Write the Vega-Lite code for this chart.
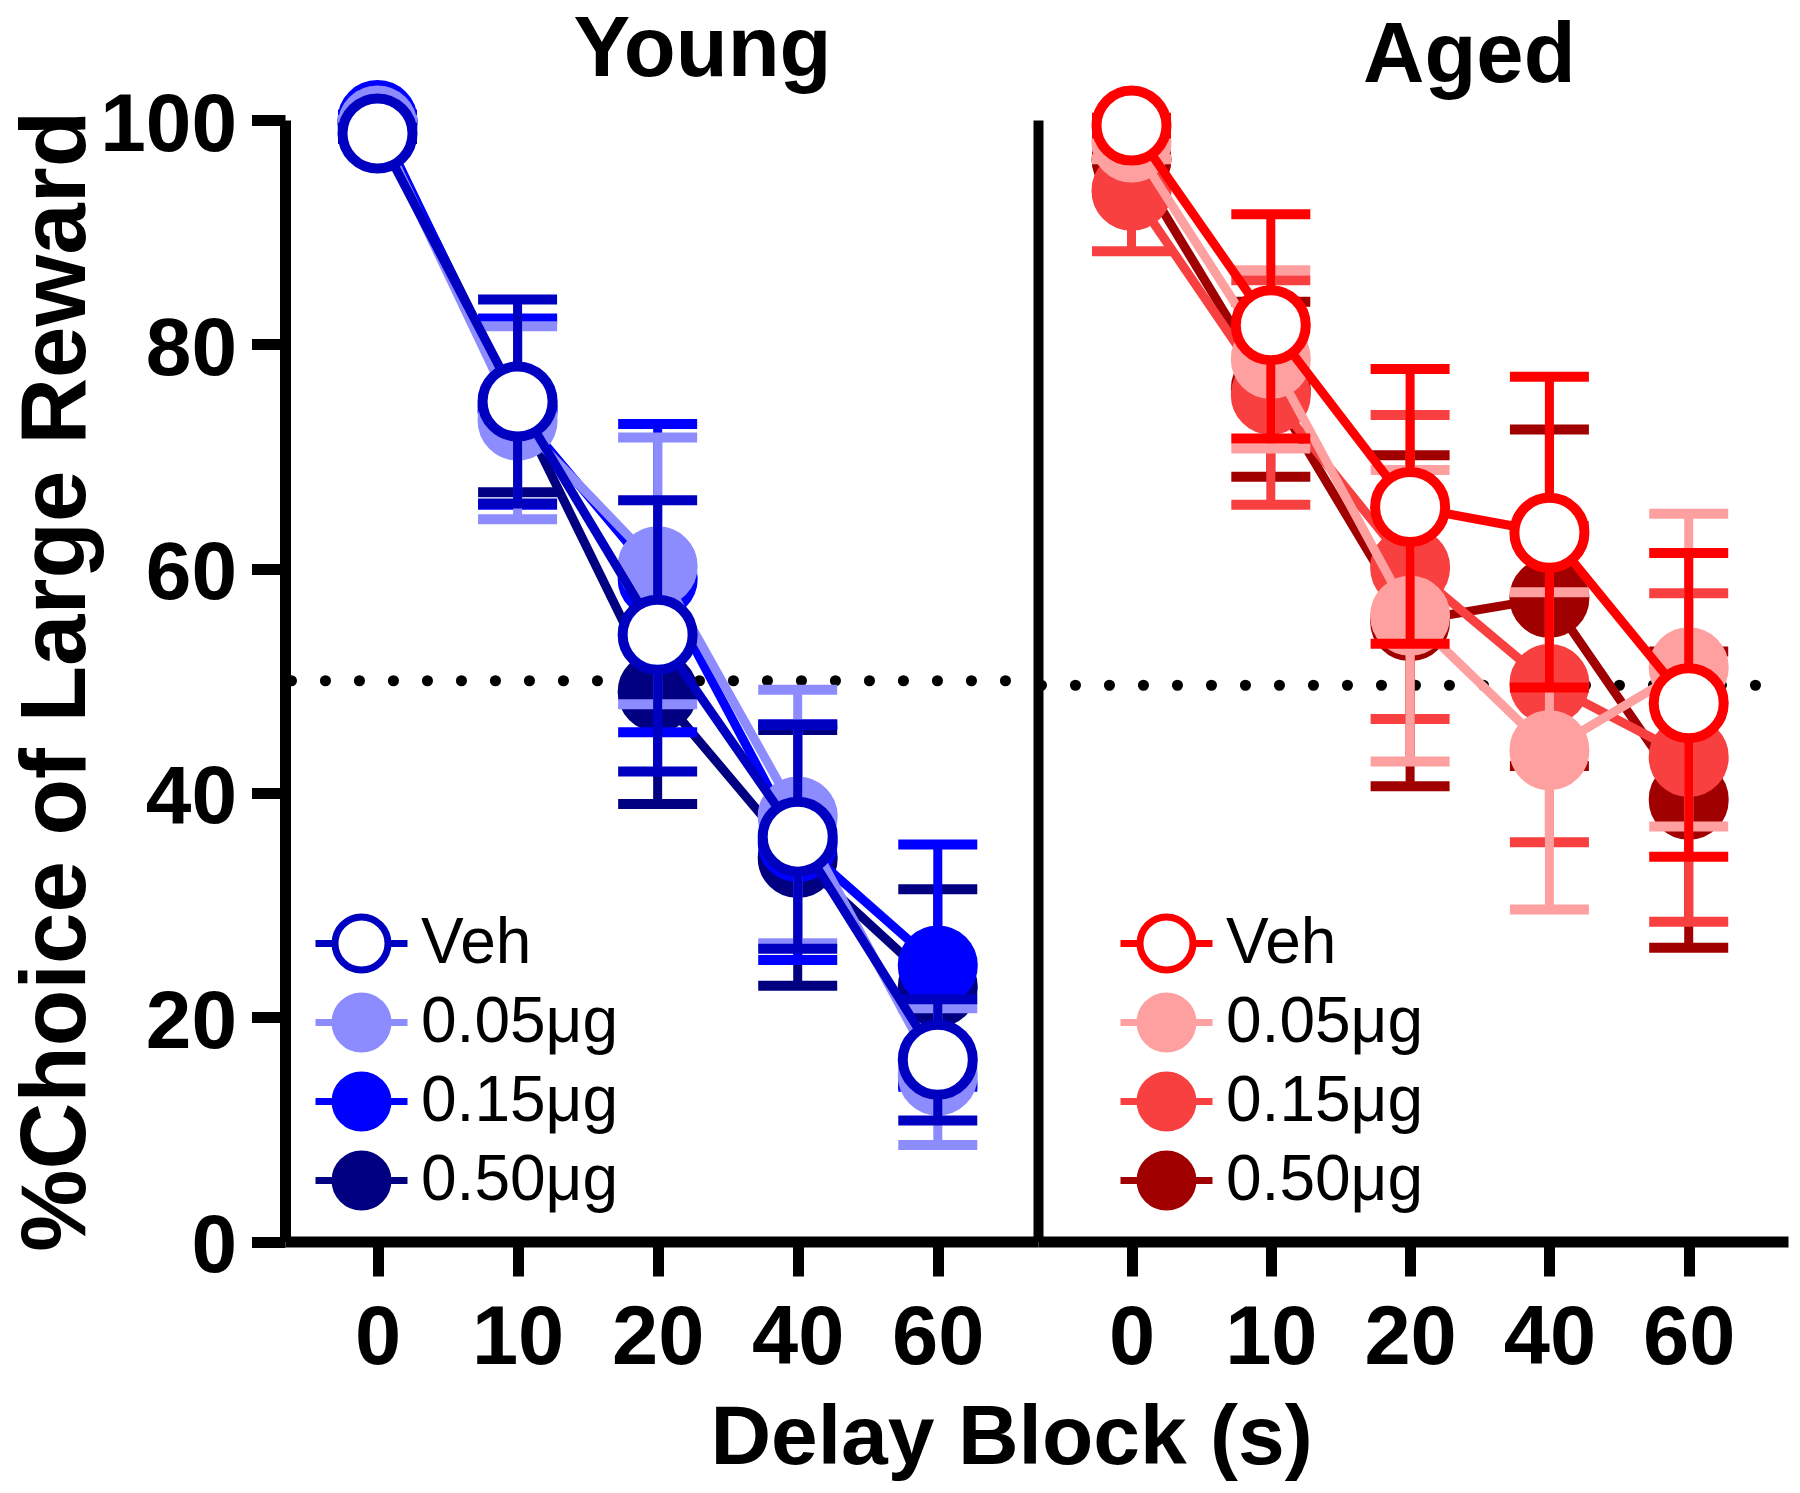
{
  "$schema": "https://vega.github.io/schema/vega-lite/v6.json",
  "background": "white",
  "padding": {"left": 10, "top": 7, "right": 0, "bottom": 0},
  "bounds": "flush",
  "spacing": 0,
  "data": {"values": [
    {"age":"Young","delay":0,"dose":"Veh","mean":98.8,"lo":98.3,"hi":99.3},
    {"age":"Young","delay":0,"dose":"0.05μg","mean":99.5,"lo":99.0,"hi":100.0},
    {"age":"Young","delay":0,"dose":"0.15μg","mean":100.0,"lo":99.5,"hi":100.5},
    {"age":"Young","delay":0,"dose":"0.50μg","mean":99.7,"lo":99.2,"hi":100.2},
    {"age":"Young","delay":10,"dose":"Veh","mean":74.9,"lo":65.8,"hi":84.0},
    {"age":"Young","delay":10,"dose":"0.05μg","mean":73.2,"lo":64.4,"hi":81.6},
    {"age":"Young","delay":10,"dose":"0.15μg","mean":74.0,"lo":65.7,"hi":82.3},
    {"age":"Young","delay":10,"dose":"0.50μg","mean":74.5,"lo":66.8,"hi":82.2},
    {"age":"Young","delay":20,"dose":"Veh","mean":54.1,"lo":41.9,"hi":66.1},
    {"age":"Young","delay":20,"dose":"0.05μg","mean":60.2,"lo":47.9,"hi":71.7},
    {"age":"Young","delay":20,"dose":"0.15μg","mean":59.1,"lo":45.4,"hi":72.9},
    {"age":"Young","delay":20,"dose":"0.50μg","mean":49.0,"lo":39.0,"hi":59.0},
    {"age":"Young","delay":40,"dose":"Veh","mean":36.1,"lo":26.1,"hi":46.1},
    {"age":"Young","delay":40,"dose":"0.05μg","mean":37.9,"lo":26.6,"hi":49.2},
    {"age":"Young","delay":40,"dose":"0.15μg","mean":35.6,"lo":25.1,"hi":46.1},
    {"age":"Young","delay":40,"dose":"0.50μg","mean":34.2,"lo":22.8,"hi":45.6},
    {"age":"Young","delay":60,"dose":"Veh","mean":16.2,"lo":10.8,"hi":21.6},
    {"age":"Young","delay":60,"dose":"0.05μg","mean":14.8,"lo":8.6,"hi":20.8},
    {"age":"Young","delay":60,"dose":"0.15μg","mean":24.6,"lo":13.8,"hi":35.4},
    {"age":"Young","delay":60,"dose":"0.50μg","mean":22.7,"lo":14.0,"hi":31.4},
    {"age":"Aged","delay":0,"dose":"Veh","mean":99.5,"lo":98.8,"hi":100.2},
    {"age":"Aged","delay":0,"dose":"0.05μg","mean":98.0,"lo":96.5,"hi":99.5},
    {"age":"Aged","delay":0,"dose":"0.15μg","mean":93.7,"lo":88.3,"hi":99.1},
    {"age":"Aged","delay":0,"dose":"0.50μg","mean":96.5,"lo":93.5,"hi":99.5},
    {"age":"Aged","delay":10,"dose":"Veh","mean":81.7,"lo":71.6,"hi":91.6},
    {"age":"Aged","delay":10,"dose":"0.05μg","mean":78.7,"lo":70.7,"hi":86.6},
    {"age":"Aged","delay":10,"dose":"0.15μg","mean":75.5,"lo":65.7,"hi":85.7},
    {"age":"Aged","delay":10,"dose":"0.50μg","mean":76.0,"lo":68.2,"hi":83.8},
    {"age":"Aged","delay":20,"dose":"Veh","mean":65.5,"lo":53.3,"hi":77.8},
    {"age":"Aged","delay":20,"dose":"0.05μg","mean":55.8,"lo":42.8,"hi":68.8},
    {"age":"Aged","delay":20,"dose":"0.15μg","mean":60.1,"lo":46.6,"hi":73.7},
    {"age":"Aged","delay":20,"dose":"0.50μg","mean":55.3,"lo":40.6,"hi":70.1},
    {"age":"Aged","delay":40,"dose":"Veh","mean":63.2,"lo":49.4,"hi":77.1},
    {"age":"Aged","delay":40,"dose":"0.05μg","mean":43.8,"lo":29.6,"hi":57.9},
    {"age":"Aged","delay":40,"dose":"0.15μg","mean":49.7,"lo":35.6,"hi":63.8},
    {"age":"Aged","delay":40,"dose":"0.50μg","mean":57.4,"lo":42.4,"hi":72.4},
    {"age":"Aged","delay":60,"dose":"Veh","mean":48.0,"lo":34.3,"hi":61.4},
    {"age":"Aged","delay":60,"dose":"0.05μg","mean":51.2,"lo":37.0,"hi":64.9},
    {"age":"Aged","delay":60,"dose":"0.15μg","mean":43.2,"lo":28.5,"hi":57.8},
    {"age":"Aged","delay":60,"dose":"0.50μg","mean":39.4,"lo":26.2,"hi":52.6}
  ]},
  "config": {
    "view": {"stroke": null},
    "font": "Liberation Sans",
    "axis": {"grid": false, "domainColor": "black", "tickColor": "black", "labelColor": "black", "titleColor": "black", "labelFont": "Liberation Sans", "titleFont": "Liberation Sans", "labelFontWeight": "bold", "titleFontWeight": "bold", "labelFlush": false, "labelOverlap": false, "labelBound": false},
    "axisX": {"domainWidth": 11, "tickWidth": 11, "tickSize": 34.5, "labelFontSize": 83, "labelBaseline": "alphabetic", "labelPadding": 87.7, "labelAngle": 0},
    "axisY": {"domainWidth": 11, "tickWidth": 11, "tickSize": 33.5, "labelFontSize": 82, "labelPadding": 15, "labelOffset": 5},
    "legend": {"symbolType": "M-1.533,0L-0.883,0M0.883,0L1.533,0M0.883,0A0.883,0.883,0,1,1,-0.883,0A0.883,0.883,0,1,1,0.883,0Z", "symbolSize": 3600, "symbolStrokeWidth": 7, "labelFont": "Liberation Sans", "labelFontSize": 64, "labelColor": "black", "labelOffset": 26, "labelLimit": 0, "rowPadding": -2, "padding": 0, "symbolOpacity": 1}
  },
  "resolve": {"scale": {"stroke": "independent", "fill": "independent"}, "legend": {"stroke": "independent", "fill": "independent"}},
  "hconcat": [
    {
      "width": 753,
      "height": 1121.5,
      "title": {"text": "Young", "fontSize": 85, "fontWeight": "bold", "font": "Liberation Sans", "color": "black", "anchor": "middle", "frame": "group", "dx": 41, "offset": -96, "baseline": "alphabetic"},
      "transform": [{"filter": {"field": "age", "equal": "Young"}}],
      "layer": [
        {
          "data": {"values": [{"chance": 50}]},
          "mark": {"type": "rule", "stroke": "black", "strokeWidth": 11, "strokeCap": "round", "strokeDash": [0.1, 33.9], "strokeDashOffset": 1.5},
          "encoding": {"y": {"field": "chance", "type": "quantitative", "scale": {"domain": [0, 100], "nice": false, "zero": false}}}
        },
        {
          "encoding": {
            "x": {"field": "delay", "type": "ordinal", "scale": {"type": "point", "domain": [0, 10, 20, 40, 60], "padding": 0.688, "align": 0.48}, "axis": {"title": "Delay Block (s)", "titleX": 726, "titleY": 222.2, "titleBaseline": "alphabetic", "titleAlign": "center", "titleFontSize": 84}},
            "y": {"field": "mean", "type": "quantitative", "scale": {"domain": [0, 100], "nice": false, "zero": false}, "axis": {"title": "%Choice of Large Reward", "values": [0, 20, 40, 60, 80, 100], "titleX": -200.5, "titleBaseline": "alphabetic", "titleFontSize": 92.5, "titleAngle": 270}}
          },
          "layer": [
            {
              "transform": [{"filter": {"field": "dose", "equal": "0.50μg"}}],
              "layer": [
                {"mark": {"type": "line", "stroke": "#000080", "strokeWidth": 9}},
                {"mark": {"type": "rule", "stroke": "#000080", "strokeWidth": 9}, "encoding": {"y": {"field": "lo", "type": "quantitative", "scale": {"domain": [0, 100]}}, "y2": {"field": "hi"}}},
                {"mark": {"type": "tick", "fill": "#000080", "thickness": 10, "size": 79, "orient": "horizontal", "opacity": 1}, "encoding": {"y": {"field": "lo", "type": "quantitative", "scale": {"domain": [0, 100]}}}},
                {"mark": {"type": "tick", "fill": "#000080", "thickness": 10, "size": 79, "orient": "horizontal", "opacity": 1}, "encoding": {"y": {"field": "hi", "type": "quantitative", "scale": {"domain": [0, 100]}}}},
                {"mark": {"type": "point", "shape": "circle", "size": 4902, "strokeWidth": 10, "opacity": 1, "filled": true},
                 "encoding": {
                   "stroke": {"field": "dose", "type": "nominal", "scale": {"domain": ["Veh", "0.05μg", "0.15μg", "0.50μg"], "range": ["#0000C0", "#8C8CFF", "#0000FF", "#000080"]}, "legend": {"title": null, "orient": "none", "legendX": 43, "legendY": 790}},
                   "fill": {"field": "dose", "type": "nominal", "scale": {"domain": ["Veh", "0.05μg", "0.15μg", "0.50μg"], "range": ["#FFFFFF", "#8C8CFF", "#0000FF", "#000080"]}, "legend": {"title": null, "orient": "none", "legendX": 43, "legendY": 790}}
                 }}
              ]
            },
            {
              "transform": [{"filter": {"field": "dose", "equal": "0.15μg"}}],
              "layer": [
                {"mark": {"type": "line", "stroke": "#0000FF", "strokeWidth": 9}},
                {"mark": {"type": "rule", "stroke": "#0000FF", "strokeWidth": 9}, "encoding": {"y": {"field": "lo", "type": "quantitative", "scale": {"domain": [0, 100]}}, "y2": {"field": "hi"}}},
                {"mark": {"type": "tick", "fill": "#0000FF", "thickness": 10, "size": 79, "orient": "horizontal", "opacity": 1}, "encoding": {"y": {"field": "lo", "type": "quantitative", "scale": {"domain": [0, 100]}}}},
                {"mark": {"type": "tick", "fill": "#0000FF", "thickness": 10, "size": 79, "orient": "horizontal", "opacity": 1}, "encoding": {"y": {"field": "hi", "type": "quantitative", "scale": {"domain": [0, 100]}}}},
                {"mark": {"type": "point", "shape": "circle", "size": 4902, "strokeWidth": 10, "opacity": 1, "filled": true},
                 "encoding": {
                   "stroke": {"field": "dose", "type": "nominal", "scale": {"domain": ["Veh", "0.05μg", "0.15μg", "0.50μg"], "range": ["#0000C0", "#8C8CFF", "#0000FF", "#000080"]}, "legend": {"title": null, "orient": "none", "legendX": 43, "legendY": 790}},
                   "fill": {"field": "dose", "type": "nominal", "scale": {"domain": ["Veh", "0.05μg", "0.15μg", "0.50μg"], "range": ["#FFFFFF", "#8C8CFF", "#0000FF", "#000080"]}, "legend": {"title": null, "orient": "none", "legendX": 43, "legendY": 790}}
                 }}
              ]
            },
            {
              "transform": [{"filter": {"field": "dose", "equal": "0.05μg"}}],
              "layer": [
                {"mark": {"type": "line", "stroke": "#8C8CFF", "strokeWidth": 9}},
                {"mark": {"type": "rule", "stroke": "#8C8CFF", "strokeWidth": 9}, "encoding": {"y": {"field": "lo", "type": "quantitative", "scale": {"domain": [0, 100]}}, "y2": {"field": "hi"}}},
                {"mark": {"type": "tick", "fill": "#8C8CFF", "thickness": 10, "size": 79, "orient": "horizontal", "opacity": 1}, "encoding": {"y": {"field": "lo", "type": "quantitative", "scale": {"domain": [0, 100]}}}},
                {"mark": {"type": "tick", "fill": "#8C8CFF", "thickness": 10, "size": 79, "orient": "horizontal", "opacity": 1}, "encoding": {"y": {"field": "hi", "type": "quantitative", "scale": {"domain": [0, 100]}}}},
                {"mark": {"type": "point", "shape": "circle", "size": 4902, "strokeWidth": 10, "opacity": 1, "filled": true},
                 "encoding": {
                   "stroke": {"field": "dose", "type": "nominal", "scale": {"domain": ["Veh", "0.05μg", "0.15μg", "0.50μg"], "range": ["#0000C0", "#8C8CFF", "#0000FF", "#000080"]}, "legend": {"title": null, "orient": "none", "legendX": 43, "legendY": 790}},
                   "fill": {"field": "dose", "type": "nominal", "scale": {"domain": ["Veh", "0.05μg", "0.15μg", "0.50μg"], "range": ["#FFFFFF", "#8C8CFF", "#0000FF", "#000080"]}, "legend": {"title": null, "orient": "none", "legendX": 43, "legendY": 790}}
                 }}
              ]
            },
            {
              "transform": [{"filter": {"field": "dose", "equal": "Veh"}}],
              "layer": [
                {"mark": {"type": "line", "stroke": "#0000C0", "strokeWidth": 9}},
                {"mark": {"type": "rule", "stroke": "#0000C0", "strokeWidth": 9}, "encoding": {"y": {"field": "lo", "type": "quantitative", "scale": {"domain": [0, 100]}}, "y2": {"field": "hi"}}},
                {"mark": {"type": "tick", "fill": "#0000C0", "thickness": 10, "size": 79, "orient": "horizontal", "opacity": 1}, "encoding": {"y": {"field": "lo", "type": "quantitative", "scale": {"domain": [0, 100]}}}},
                {"mark": {"type": "tick", "fill": "#0000C0", "thickness": 10, "size": 79, "orient": "horizontal", "opacity": 1}, "encoding": {"y": {"field": "hi", "type": "quantitative", "scale": {"domain": [0, 100]}}}},
                {"mark": {"type": "point", "shape": "circle", "size": 4902, "strokeWidth": 10, "opacity": 1, "filled": true},
                 "encoding": {
                   "stroke": {"field": "dose", "type": "nominal", "scale": {"domain": ["Veh", "0.05μg", "0.15μg", "0.50μg"], "range": ["#0000C0", "#8C8CFF", "#0000FF", "#000080"]}, "legend": {"title": null, "orient": "none", "legendX": 43, "legendY": 790}},
                   "fill": {"field": "dose", "type": "nominal", "scale": {"domain": ["Veh", "0.05μg", "0.15μg", "0.50μg"], "range": ["#FFFFFF", "#8C8CFF", "#0000FF", "#000080"]}, "legend": {"title": null, "orient": "none", "legendX": 43, "legendY": 790}}
                 }}
              ]
            }
          ]
        }
      ]
    },
    {
      "width": 750,
      "height": 1121.5,
      "title": {"text": "Aged", "fontSize": 85, "fontWeight": "bold", "font": "Liberation Sans", "color": "black", "anchor": "middle", "frame": "group", "dx": 56.3, "offset": -96, "baseline": "alphabetic"},
      "transform": [{"filter": {"field": "age", "equal": "Aged"}}],
      "layer": [
        {
          "data": {"values": [{"chance": 49.6}]},
          "mark": {"type": "rule", "stroke": "black", "strokeWidth": 11, "strokeCap": "round", "strokeDash": [0.1, 33.9], "strokeDashOffset": 1.5},
          "encoding": {"y": {"field": "chance", "type": "quantitative", "scale": {"domain": [0, 100], "nice": false, "zero": false}}}
        },
        {
          "encoding": {
            "x": {"field": "delay", "type": "ordinal", "scale": {"type": "point", "domain": [0, 10, 20, 40, 60], "padding": 0.692, "align": 0.485}, "axis": {"title": null}},
            "y": {"field": "mean", "type": "quantitative", "scale": {"domain": [0, 100], "nice": false, "zero": false}, "axis": {"title": null, "labels": false, "ticks": false, "domain": true, "domainWidth": 10}}
          },
          "layer": [
            {
              "transform": [{"filter": {"field": "dose", "equal": "0.50μg"}}],
              "layer": [
                {"mark": {"type": "line", "stroke": "#A00000", "strokeWidth": 9}},
                {"mark": {"type": "rule", "stroke": "#A00000", "strokeWidth": 9}, "encoding": {"y": {"field": "lo", "type": "quantitative", "scale": {"domain": [0, 100]}}, "y2": {"field": "hi"}}},
                {"mark": {"type": "tick", "fill": "#A00000", "thickness": 10, "size": 79, "orient": "horizontal", "opacity": 1}, "encoding": {"y": {"field": "lo", "type": "quantitative", "scale": {"domain": [0, 100]}}}},
                {"mark": {"type": "tick", "fill": "#A00000", "thickness": 10, "size": 79, "orient": "horizontal", "opacity": 1}, "encoding": {"y": {"field": "hi", "type": "quantitative", "scale": {"domain": [0, 100]}}}},
                {"mark": {"type": "point", "shape": "circle", "size": 4902, "strokeWidth": 10, "opacity": 1, "filled": true},
                 "encoding": {
                   "stroke": {"field": "dose", "type": "nominal", "scale": {"domain": ["Veh", "0.05μg", "0.15μg", "0.50μg"], "range": ["#FF0000", "#FFA0A0", "#F84040", "#A00000"]}, "legend": {"title": null, "orient": "none", "legendX": 95, "legendY": 790}},
                   "fill": {"field": "dose", "type": "nominal", "scale": {"domain": ["Veh", "0.05μg", "0.15μg", "0.50μg"], "range": ["#FFFFFF", "#FFA0A0", "#F84040", "#A00000"]}, "legend": {"title": null, "orient": "none", "legendX": 95, "legendY": 790}}
                 }}
              ]
            },
            {
              "transform": [{"filter": {"field": "dose", "equal": "0.15μg"}}],
              "layer": [
                {"mark": {"type": "line", "stroke": "#F84040", "strokeWidth": 9}},
                {"mark": {"type": "rule", "stroke": "#F84040", "strokeWidth": 9}, "encoding": {"y": {"field": "lo", "type": "quantitative", "scale": {"domain": [0, 100]}}, "y2": {"field": "hi"}}},
                {"mark": {"type": "tick", "fill": "#F84040", "thickness": 10, "size": 79, "orient": "horizontal", "opacity": 1}, "encoding": {"y": {"field": "lo", "type": "quantitative", "scale": {"domain": [0, 100]}}}},
                {"mark": {"type": "tick", "fill": "#F84040", "thickness": 10, "size": 79, "orient": "horizontal", "opacity": 1}, "encoding": {"y": {"field": "hi", "type": "quantitative", "scale": {"domain": [0, 100]}}}},
                {"mark": {"type": "point", "shape": "circle", "size": 4902, "strokeWidth": 10, "opacity": 1, "filled": true},
                 "encoding": {
                   "stroke": {"field": "dose", "type": "nominal", "scale": {"domain": ["Veh", "0.05μg", "0.15μg", "0.50μg"], "range": ["#FF0000", "#FFA0A0", "#F84040", "#A00000"]}, "legend": {"title": null, "orient": "none", "legendX": 95, "legendY": 790}},
                   "fill": {"field": "dose", "type": "nominal", "scale": {"domain": ["Veh", "0.05μg", "0.15μg", "0.50μg"], "range": ["#FFFFFF", "#FFA0A0", "#F84040", "#A00000"]}, "legend": {"title": null, "orient": "none", "legendX": 95, "legendY": 790}}
                 }}
              ]
            },
            {
              "transform": [{"filter": {"field": "dose", "equal": "0.05μg"}}],
              "layer": [
                {"mark": {"type": "line", "stroke": "#FFA0A0", "strokeWidth": 9}},
                {"mark": {"type": "rule", "stroke": "#FFA0A0", "strokeWidth": 9}, "encoding": {"y": {"field": "lo", "type": "quantitative", "scale": {"domain": [0, 100]}}, "y2": {"field": "hi"}}},
                {"mark": {"type": "tick", "fill": "#FFA0A0", "thickness": 10, "size": 79, "orient": "horizontal", "opacity": 1}, "encoding": {"y": {"field": "lo", "type": "quantitative", "scale": {"domain": [0, 100]}}}},
                {"mark": {"type": "tick", "fill": "#FFA0A0", "thickness": 10, "size": 79, "orient": "horizontal", "opacity": 1}, "encoding": {"y": {"field": "hi", "type": "quantitative", "scale": {"domain": [0, 100]}}}},
                {"mark": {"type": "point", "shape": "circle", "size": 4902, "strokeWidth": 10, "opacity": 1, "filled": true},
                 "encoding": {
                   "stroke": {"field": "dose", "type": "nominal", "scale": {"domain": ["Veh", "0.05μg", "0.15μg", "0.50μg"], "range": ["#FF0000", "#FFA0A0", "#F84040", "#A00000"]}, "legend": {"title": null, "orient": "none", "legendX": 95, "legendY": 790}},
                   "fill": {"field": "dose", "type": "nominal", "scale": {"domain": ["Veh", "0.05μg", "0.15μg", "0.50μg"], "range": ["#FFFFFF", "#FFA0A0", "#F84040", "#A00000"]}, "legend": {"title": null, "orient": "none", "legendX": 95, "legendY": 790}}
                 }}
              ]
            },
            {
              "transform": [{"filter": {"field": "dose", "equal": "Veh"}}],
              "layer": [
                {"mark": {"type": "line", "stroke": "#FF0000", "strokeWidth": 9}},
                {"mark": {"type": "rule", "stroke": "#FF0000", "strokeWidth": 9}, "encoding": {"y": {"field": "lo", "type": "quantitative", "scale": {"domain": [0, 100]}}, "y2": {"field": "hi"}}},
                {"mark": {"type": "tick", "fill": "#FF0000", "thickness": 10, "size": 79, "orient": "horizontal", "opacity": 1}, "encoding": {"y": {"field": "lo", "type": "quantitative", "scale": {"domain": [0, 100]}}}},
                {"mark": {"type": "tick", "fill": "#FF0000", "thickness": 10, "size": 79, "orient": "horizontal", "opacity": 1}, "encoding": {"y": {"field": "hi", "type": "quantitative", "scale": {"domain": [0, 100]}}}},
                {"mark": {"type": "point", "shape": "circle", "size": 4902, "strokeWidth": 10, "opacity": 1, "filled": true},
                 "encoding": {
                   "stroke": {"field": "dose", "type": "nominal", "scale": {"domain": ["Veh", "0.05μg", "0.15μg", "0.50μg"], "range": ["#FF0000", "#FFA0A0", "#F84040", "#A00000"]}, "legend": {"title": null, "orient": "none", "legendX": 95, "legendY": 790}},
                   "fill": {"field": "dose", "type": "nominal", "scale": {"domain": ["Veh", "0.05μg", "0.15μg", "0.50μg"], "range": ["#FFFFFF", "#FFA0A0", "#F84040", "#A00000"]}, "legend": {"title": null, "orient": "none", "legendX": 95, "legendY": 790}}
                 }}
              ]
            }
          ]
        }
      ]
    }
  ]
}
